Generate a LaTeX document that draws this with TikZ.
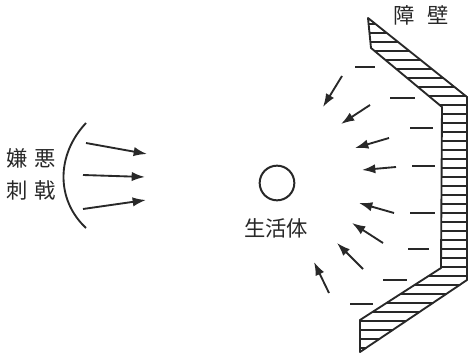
\documentclass[tikz,border=0pt]{standalone}
\usepackage{fontspec}
\newfontfamily\jpfont{Noto Sans CJK JP}
\usepackage{tikz}
\usetikzlibrary{arrows.meta}
\definecolor{inkgray}{RGB}{40,40,40}

\begin{document}
\begin{tikzpicture}[x=0.75pt, y=-0.75pt,
    every node/.style={font=\jpfont\fontsize{16}{19}\selectfont, text=inkgray},
    push/.style={-{Latex[length=10pt, width=7pt]}, line width=1.4pt, draw=inkgray},
    mark line/.style={line width=1.1pt, draw=inkgray}]
    \useasboundingbox (0,0) rectangle (468,356);
    % stimulus side
    \node (kenoa) at (31,158) {嫌\hspace{0.3em}悪};
    \node (shigeki) at (31,190) {刺\hspace{0.3em}戟};
    \draw[line width=1.4pt, inkgray] (86,123) .. controls (56,155) and (56,200) .. (86,228);
    \draw[push] (86,143) -- (147,154);
    \draw[push] (83,175) -- (145,177);
    \draw[push] (83,209) -- (146,200);
    % organism
    \node[circle, draw=inkgray, line width=1.5pt, minimum size=26pt, inner sep=0pt] (tai) at (277,183) {};
    \node (seikatsu) at (276,228) {生活体};
    % barrier
    \node (shoheki) at (421,15) {障\hspace{0.6em}壁};
    \begin{scope}
        \clip (368,18) -- (468,97) -- (468,280) -- (360,352) -- (360,320)
            -- (441,268) -- (442,107) -- (371,48) -- cycle;
        \foreach \y in {24,33,...,352}
            \draw[line width=0.8pt, inkgray] (340,\y) -- (470,\y);
    \end{scope}
    \draw[line width=1.4pt, inkgray, line join=round] (368,18) -- (467,97) -- (467,280) -- (360,352)
        -- (360,320) -- (441,268) -- (442,107) -- (371,48) -- cycle;
    % short marks between barrier and organism
    \foreach \xa/\xb/\y in {355/375/67, 390/415/98, 410/433/128, 412/435/166,
                            410/435/213, 408/429/249, 383/407/280, 350/373/304}
        \draw[mark line] (\xa,\y) -- (\xb,\y);
    \draw[push] (342,76) -- (323,107);
    \draw[push] (370,105) -- (341,124);
    \draw[push] (389,138) -- (355,148);
    \draw[push] (396,167) -- (362,170);
    \draw[push] (394,213) -- (359,203);
    \draw[push] (383,243) -- (352,223);
    \draw[push] (363,269) -- (337,243);
    \draw[push] (329,293) -- (314,262);
\end{tikzpicture}
\end{document}
